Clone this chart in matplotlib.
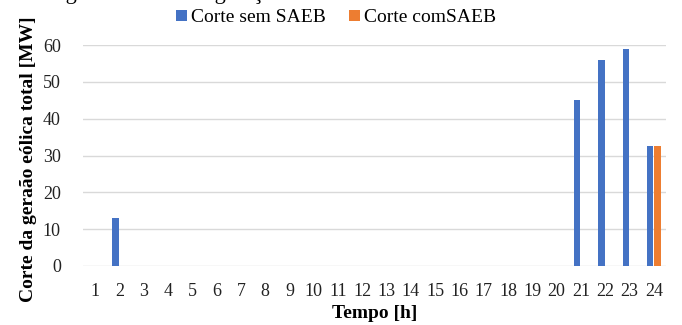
import numpy as np
import matplotlib
matplotlib.use("Agg")
import matplotlib.pyplot as plt

plt.rcParams['font.family'] = ['Liberation Serif', 'DejaVu Serif']

hours = [str(h) for h in range(1, 25)]
sem_saeb = [0, 13, 0, 0, 0, 0, 0, 0, 0, 0, 0, 0, 0, 0, 0, 0, 0, 0, 0, 0, 45, 55.8, 58.9, 32.6]
com_saeb = [0, 0, 0, 0, 0, 0, 0, 0, 0, 0, 0, 0, 0, 0, 0, 0, 0, 0, 0, 0, 0, 0, 0, 32.6]
yticks = [0, 10, 20, 30, 40, 50, 60]

fig = plt.figure(figsize=(6.82, 3.25), dpi=100)
ax = fig.add_axes([83/682, 1 - 266/325, (666 - 83)/682, (266 - 45)/325])

x = np.arange(len(hours))
w = 0.27
ax.bar(x - 0.155, sem_saeb, w, color='#4472C4', label='Corte sem SAEB', zorder=3)
ax.bar(x + 0.155, com_saeb, w, color='#ED7D31', label='Corte comSAEB', zorder=3)

ax.set_xlim(-0.5, len(hours) - 0.5)
ax.set_ylim(0, 60)
ax.set_yticks(yticks)
ax.set_xticks(x)
ax.set_xticklabels(hours)
ax.tick_params(length=0, labelsize=13, colors='#222222')
ax.tick_params(axis='y', pad=16)
ax.tick_params(axis='x', pad=12)
ax.grid(axis='y', color='#D9D9D9', linewidth=1, zorder=0)
for s in ax.spines.values():
    s.set_visible(False)

ax.set_xlabel('Tempo [h]', fontsize=14, fontweight='bold', labelpad=4)
fig.text(29/682, 1 - 159/325, 'Corte da geraão eólica total [MW]', rotation=90,
         fontsize=14, fontweight='bold', ha='center', va='center')

fig.text(0.49, 1 + 1/325, 'Figura 6. Corte da geração eólica com e sem SAEB no cenário 3',
         fontsize=16, ha='center', va='baseline')

ax.legend(loc='center', bbox_to_anchor=(336/682, 1 - 18/325), bbox_transform=fig.transFigure,
          ncol=2, frameon=False, fontsize=14, handlelength=0.55, handleheight=0.55,
          handletextpad=0.2, columnspacing=1.2, borderpad=0)

fig.savefig('out.png', dpi=100)
